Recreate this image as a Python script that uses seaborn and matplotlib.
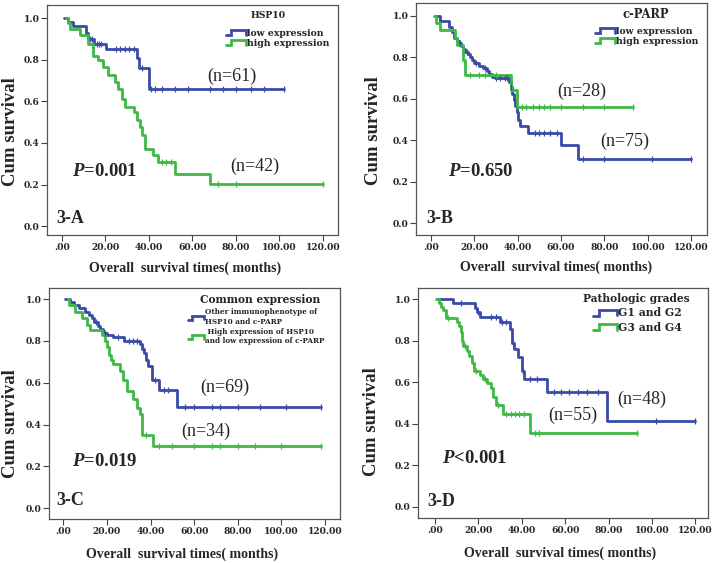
import numpy as np
import pandas as pd
import matplotlib
matplotlib.use('Agg')
import matplotlib.pyplot as plt
import seaborn as sns
from matplotlib.lines import Line2D
from matplotlib.legend_handler import HandlerBase

# ---- data ----
# 3-A  HSP10
a_low_t = [1, 3, 5, 11, 12, 15, 20.5, 34.5, 35.5, 40, 102]
a_low_s = [1.0, 0.98, 0.965, 0.93, 0.90, 0.878, 0.85, 0.81, 0.76, 0.66, 0.66]
a_low_c = [13, 14, 16, 17, 18, 25, 27, 29, 31, 33, 36.8, 41, 43, 46, 52, 58, 68, 74, 80, 87, 93, 102]
a_high_t = [2, 3.1, 3.8, 8.4, 12.2, 14.5, 16.8, 19.1, 21.4, 24.5, 26, 27.6, 29.1, 33, 34.5, 36,
            37.1, 38.3, 42.1, 44.4, 52, 68, 120]
a_high_s = [1.0, 0.976, 0.95, 0.92, 0.878, 0.82, 0.80, 0.765, 0.725, 0.693, 0.66, 0.613, 0.573,
            0.549, 0.509, 0.477, 0.437, 0.372, 0.34, 0.308, 0.252, 0.204, 0.204]
a_high_c = [46, 48, 50, 72, 80, 120]

# 3-B  c-PARP
b_low_t = [2, 4.3, 8.6, 9.7, 10.5, 12, 13, 14, 15, 16, 17, 18, 19, 20, 22, 24, 26, 27, 28, 29.5,
           36, 36.8, 37.5, 38.2, 39, 39.7, 40.3, 41, 45, 60, 68, 120]
b_low_s = [1.0, 0.973, 0.947, 0.92, 0.893, 0.88, 0.867, 0.853, 0.84, 0.827, 0.813, 0.80, 0.787,
           0.773, 0.76, 0.747, 0.733, 0.72, 0.707, 0.70, 0.68, 0.655, 0.625, 0.595, 0.565, 0.535,
           0.50, 0.47, 0.437, 0.375, 0.312, 0.312]
b_low_c = [13.5, 16.5, 21, 25, 30, 32, 34, 35, 37, 48, 50, 52, 55, 58, 70, 80, 102, 120]
b_high_t = [1.5, 2.5, 4.3, 11, 12.3, 14.7, 16, 37, 39.8, 93]
b_high_s = [1.0, 0.964, 0.929, 0.893, 0.857, 0.786, 0.714, 0.643, 0.56, 0.56]
b_high_c = [18, 22, 25, 30, 42, 44, 47, 50, 52, 55, 60, 70, 80, 93]

# 3-C  common expression
c_low_t = [1, 3, 5, 7, 10, 12, 13, 14, 16, 17, 18, 20, 23, 28, 35, 36, 37, 38, 38.7, 40.5, 44, 52, 118]
c_low_s = [1.0, 0.985, 0.97, 0.955, 0.94, 0.925, 0.91, 0.89, 0.87, 0.855, 0.84, 0.826, 0.82,
           0.80, 0.785, 0.76, 0.74, 0.71, 0.68, 0.613, 0.565, 0.485, 0.485]
c_low_c = [15, 19, 25, 30, 32, 34, 36.5, 42, 46, 48, 56, 60, 68, 72, 80, 90, 102, 118]
c_high_t = [2, 2.5, 5.4, 8.4, 10.7, 12.2, 17.6, 19.1, 20, 21, 22, 23, 26, 27.5, 29, 32, 33.7,
            35, 36, 41, 118]
c_high_s = [1.0, 0.97, 0.94, 0.91, 0.876, 0.852, 0.828, 0.80, 0.77, 0.735, 0.71, 0.69, 0.655,
            0.615, 0.56, 0.52, 0.48, 0.45, 0.35, 0.30, 0.30]
c_high_c = [38, 44, 50, 60, 68, 72, 80, 88, 100, 118]

# 3-D  pathologic grades
d_low_t = [1, 8.4, 18.4, 19.5, 21, 29.9, 34.5, 35.5, 36.5, 38.5, 40, 41, 51.9, 79.5, 120]
d_low_s = [1.0, 0.979, 0.958, 0.937, 0.915, 0.888, 0.855, 0.79, 0.76, 0.72, 0.655, 0.613,
           0.554, 0.414, 0.414]
d_low_c = [12, 20, 26, 28, 31, 33, 36, 40.5, 44, 47, 55, 58, 62, 66, 70, 75, 102, 120]
d_high_t = [0.5, 2, 3, 4, 5, 10.4, 11, 12, 12.5, 13, 15, 16, 17, 18, 21, 22, 24, 26, 27, 28,
            31.5, 43.7, 93]
d_high_s = [1.0, 0.982, 0.964, 0.945, 0.91, 0.89, 0.87, 0.84, 0.80, 0.775, 0.75, 0.725, 0.69,
            0.655, 0.635, 0.615, 0.594, 0.57, 0.53, 0.49, 0.449, 0.356, 0.356]
d_high_c = [6, 14, 19, 23, 29, 33, 35, 37, 39, 41, 46, 48, 93]

x_ticks = [0, 20, 40, 60, 80, 100, 120]
x_tick_labels = ['.00', '20.00', '40.00', '60.00', '80.00', '100.00', '120.00']
y_ticks = [0.0, 0.2, 0.4, 0.6, 0.8, 1.0]

BLUE = '#3a4aa8'
GREEN = '#3fb846'
W, H = 717, 563

sns.set_style('ticks')
plt.rcParams['font.family'] = ['Liberation Serif', 'DejaVu Serif']
plt.rcParams['mathtext.fontset'] = 'custom'
plt.rcParams['mathtext.it'] = 'Liberation Serif:italic:bold'
plt.rcParams['mathtext.rm'] = 'Liberation Serif:bold'


class StepHandler(HandlerBase):
    # SPSS style little step icon in the legend
    def create_artists(self, legend, orig_handle, xdescent, ydescent, width, height, fontsize, trans):
        x0, y0 = -xdescent, -ydescent
        xs = [x0, x0 + 0.25 * width, x0 + 0.25 * width, x0 + width, x0 + width]
        ys = [y0 + 0.1 * height, y0 + 0.1 * height, y0 + 0.85 * height, y0 + 0.85 * height, y0 + 0.15 * height]
        ln = Line2D(xs, ys, color=orig_handle.get_color(), lw=orig_handle.get_linewidth(),
                    solid_joinstyle='miter')
        ln.set_transform(trans)
        return [ln]


def step_value(t, s, c):
    idx = np.searchsorted(t, c, side='right') - 1
    return np.array(s)[idx]


def km_panel(ax, curves, xlim, ylim):
    for t, s, cens, col in curves:
        df = pd.DataFrame({'time': t, 'surv': s})
        sns.lineplot(data=df, x='time', y='surv', ax=ax, color=col, lw=2.0,
                     drawstyle='steps-post', estimator=None, sort=False)
        cdf = pd.DataFrame({'time': cens, 'surv': step_value(t, s, cens)})
        sns.scatterplot(data=cdf, x='time', y='surv', ax=ax, color=col, marker='|',
                        s=22, linewidth=0.9, zorder=3)
    ax.set_xlim(*xlim)
    ax.set_ylim(*ylim)
    ax.set_xticks(x_ticks)
    ax.set_xticklabels(x_tick_labels)
    ax.set_yticks(y_ticks)
    ax.set_yticklabels([f'{v:.1f}' for v in y_ticks])
    for lab in ax.get_xticklabels() + ax.get_yticklabels():
        lab.set_fontfamily('DejaVu Serif')
        lab.set_fontweight('bold')
        lab.set_fontsize(6.6)
    ax.tick_params(axis='both', direction='out', length=4, width=0.8, pad=1.5, color='#444444')
    for sp in ax.spines.values():
        sp.set_color('#555555')
        sp.set_linewidth(0.9)
    ax.set_ylabel('Cum survival', fontsize=13.5, fontweight='bold')
    ax.set_xlabel('Overall  survival times( months)', fontsize=10, fontweight='bold')


fig = plt.figure(figsize=(7.17, 5.63), dpi=100)
fig.patch.set_facecolor('white')

panels = [
    dict(rect=[0.0656, 0.5826, 0.4059, 0.4085], xlim=(-6.76, 127.0), ylim=(-0.043, 1.064),
         curves=[(a_low_t, a_low_s, a_low_c, BLUE), (a_high_t, a_high_s, a_high_c, GREEN)],
         title='HSP10', labels=['low expression', 'high expression'], lfs=6.7, tfs=6.7,
         tpos=(268, 16), lpos=(226, 28.5), ls=0.15, ylab=(-0.098, 0.45), xlab=(0.474, -0.115),
         texts=[(78.3, 0.722, '(n=61)'), (88.9, 0.289, '(n=42)')], p=(19.9, 0.261, '$P$=0.001'),
         tag=(-2.6, 0.035, '3-A')),
    dict(rect=[0.5802, 0.5826, 0.4059, 0.4121], xlim=(-6.77, 127.2), ylim=(-0.056, 1.061),
         curves=[(b_low_t, b_low_s, b_low_c, BLUE), (b_high_t, b_high_s, b_high_c, GREEN)],
         title='c-PARP', labels=['low expression', 'high expression'], lfs=6.7, tfs=8.3,
         tpos=(646, 14), lpos=(595, 26.5), ls=0.12, ylab=(-0.117, 0.45), xlab=(0.48, -0.112),
         texts=[(69.3, 0.638, '(n=28)'), (89.3, 0.393, '(n=75)')], p=(23.3, 0.248, '$P$=0.650'),
         tag=(-2.0, 0.024, '3-B')),
    dict(rect=[0.0683, 0.0782, 0.4059, 0.4103], xlim=(-6.56, 126.9), ylim=(-0.051, 1.053),
         curves=[(c_low_t, c_low_s, c_low_c, BLUE), (c_high_t, c_high_s, c_high_c, GREEN)],
         title='Common expression',
         labels=['Other immunophenotype of\nHSP10 and c-PARP', ' High expression of HSP10\nand low expression of c-PARP'],
         lfs=5.2, tfs=7.7, tpos=(260, 299.5), lpos=(188, 308.5), ls=0.3,
         ylab=(-0.103, 0.415), xlab=(0.456, -0.125),
         texts=[(74.2, 0.576, '(n=69)'), (65.3, 0.366, '(n=34)')], p=(19.1, 0.223, '$P$=0.019'),
         tag=(-3.3, 0.036, '3-C')),
    dict(rect=[0.583, 0.0799, 0.4045, 0.4085], xlim=(-7.69, 125.8), ylim=(-0.054, 1.053),
         curves=[(d_low_t, d_low_s, d_low_c, BLUE), (d_high_t, d_high_s, d_high_c, GREEN)],
         title='Pathologic grades', labels=['G1 and G2', 'G3 and G4'], lfs=7.8, tfs=7.7,
         tpos=(636, 299), lpos=(593, 307.5), ls=0.3, ylab=(-0.13, 0.42), xlab=(0.489, -0.125),
         texts=[(95.1, 0.519, '(n=48)'), (63.7, 0.441, '(n=55)')], p=(18.4, 0.233, '$P$<0.001'),
         tag=(-3.4, 0.024, '3-D')),
]

for pn in panels:
    ax = fig.add_axes(pn['rect'])
    km_panel(ax, pn['curves'], pn['xlim'], pn['ylim'])
    ax.yaxis.set_label_coords(*pn['ylab'])
    ax.xaxis.set_label_coords(*pn['xlab'])
    for x, y, s in pn['texts']:
        ax.text(x, y, s, fontsize=13, ha='center', va='center')
    px, py, ps = pn['p']
    ax.text(px, py, ps, fontsize=13.5, fontweight='bold', ha='center', va='center')
    tx, ty, ts = pn['tag']
    ax.text(tx, ty, ts, fontsize=13, fontweight='bold', ha='left', va='center')

    # legend: title as separate text, entries with step icons
    fig.text(pn['tpos'][0] / W, 1 - pn['tpos'][1] / H, pn['title'], family='DejaVu Serif',
             fontweight='bold', fontsize=pn['tfs'], ha='center', va='center')
    handles = [Line2D([], [], color=c[3], lw=2.0) for c in pn['curves']]
    ax.legend(handles, pn['labels'], loc='upper left',
              bbox_to_anchor=(pn['lpos'][0] / W, 1 - pn['lpos'][1] / H),
              bbox_transform=fig.transFigure, frameon=False, borderpad=0, borderaxespad=0,
              handlelength=2.2, handletextpad=0.1, labelspacing=pn['ls'],
              handler_map={Line2D: StepHandler()},
              prop={'family': 'DejaVu Serif', 'weight': 'bold', 'size': pn['lfs']})

fig.savefig('out.png', dpi=100)
